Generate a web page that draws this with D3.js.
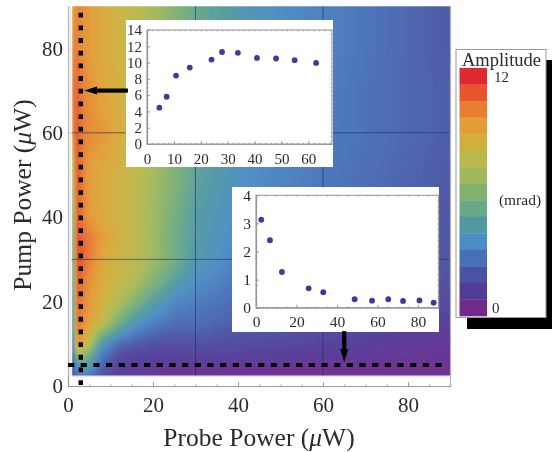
<!DOCTYPE html>
<html>
<head>
<meta charset="utf-8">
<script src="https://cdn.jsdelivr.net/npm/d3@7"></script>
<style>
  html, body { margin: 0; padding: 0; background: #fff; }
  svg { display: block; filter: blur(0.55px); }
  text { font-family: "Liberation Serif", serif; fill: #2b2b2b; }
</style>
</head>
<body>
<div id="chart"></div>
<script>
// --- data ---
const probeGrid = [1, 2, 3, 5, 8, 12, 16, 20, 25, 30, 40, 50, 60, 70, 80, 90];
const pumpGrid = [2.4, 5, 7, 10, 15, 20, 25, 30, 35, 40, 50, 60, 70, 80, 90];
// one row per pumpGrid entry, one value per probeGrid entry (mrad)
const amplitudeGrid = [
  [1.0, 2.5, 3.0, 2.6, 1.5, 0.8, 0.5, 0.3, 0.2, 0.2, 0.1, 0.1, 0.1, 0.1, 0.1, 0.1],
  [1.3, 3.5, 4.5, 4.2, 2.2, 1.0, 0.8, 0.7, 0.6, 0.6, 0.5, 0.4, 0.4, 0.3, 0.2, 0.2],
  [1.6, 6.0, 6.5, 5.2, 2.6, 1.3, 1.0, 0.9, 0.9, 1.0, 0.9, 0.8, 0.7, 0.6, 0.5, 0.4],
  [2.0, 9.5, 9.5, 7.6, 3.9, 2.4, 1.8, 1.5, 1.4, 1.5, 1.3, 1.2, 1.0, 0.8, 0.6, 0.5],
  [2.5, 10.5, 10.3, 9.4, 8.0, 5.4, 3.8, 3.0, 2.4, 2.4, 1.9, 1.7, 1.5, 1.2, 1.0, 0.9],
  [3.0, 10.8, 10.4, 9.6, 8.7, 7.4, 5.8, 4.4, 3.2, 2.9, 2.3, 2.0, 1.8, 1.6, 1.4, 1.2],
  [3.5, 11.0, 10.8, 9.8, 9.0, 8.2, 7.3, 6.0, 4.5, 3.5, 2.6, 2.3, 2.1, 1.9, 1.7, 1.5],
  [4.0, 11.3, 11.2, 10.3, 9.2, 8.3, 7.7, 6.8, 5.4, 4.1, 3.0, 2.6, 2.3, 2.1, 1.8, 1.6],
  [4.2, 11.5, 11.0, 10.5, 9.5, 8.6, 7.9, 6.8, 5.3, 4.3, 3.2, 2.7, 2.4, 2.2, 1.9, 1.7],
  [4.5, 11.3, 10.6, 9.6, 9.1, 8.5, 7.8, 6.8, 5.5, 4.3, 3.4, 2.9, 2.5, 2.3, 2.0, 1.7],
  [7.0, 11.2, 10.6, 9.4, 9.0, 8.6, 7.9, 7.0, 5.9, 4.7, 3.6, 3.1, 2.7, 2.4, 2.1, 1.8],
  [9.5, 11.3, 10.5, 10.0, 9.7, 8.9, 8.2, 7.4, 6.2, 5.0, 3.9, 3.2, 2.8, 2.5, 2.2, 1.9],
  [10.0, 11.0, 10.5, 9.8, 9.2, 8.7, 8.1, 7.3, 6.2, 5.0, 4.0, 3.3, 2.9, 2.5, 2.2, 1.9],
  [9.5, 10.5, 10.0, 9.5, 9.0, 8.5, 7.9, 7.1, 6.1, 5.0, 4.1, 3.4, 3.0, 2.6, 2.2, 1.8],
  [9.0, 10.0, 10.0, 9.5, 9.0, 8.4, 7.8, 7.0, 6.0, 5.0, 4.1, 3.4, 3.0, 2.6, 2.2, 1.8]
];
// top to bottom in the legend
const bandColors = ["#e0282f", "#e6552d", "#e87d33", "#e39c36", "#cfb03d", "#b8b84c", "#9fb85c", "#82b070",
  "#69a888", "#5198a2", "#4a8cc4", "#4870b8", "#4a52a2", "#523a98", "#72298c"];

const topProbe = [4.6, 7.3, 10.8, 15.9, 24, 27.9, 33.8, 40.9, 48, 54.9, 62.9];
const topAmp = [4.46, 5.8, 8.4, 9.38, 10.37, 11.3, 11.2, 10.57, 10.5, 10.3, 9.96];
const bottomPump = [2.6, 6.9, 12.8, 26, 33.2, 48.7, 57.3, 65.3, 72.6, 80.7, 87.7];
const bottomAmp = [3.13, 2.4, 1.27, 0.69, 0.55, 0.3, 0.25, 0.3, 0.24, 0.26, 0.18];

const mainTicks = [0, 20, 40, 60, 80];
const gridProbe = [30, 60];
const gridPump = [30, 60];

const width = 552, height = 452;
const x = d3.scaleLinear().domain([0, 90]).range([68, 450.5]);
const y = d3.scaleLinear().domain([0, 90]).range([386, 6.2]);
const color = d3.scaleLinear()
  .domain(bandColors.map((c, i) => 12 - i * 12 / (bandColors.length - 1)))
  .range(bandColors)
  .clamp(true);

const svg = d3.select("#chart").append("svg").attr("width", width).attr("height", height);
svg.append("rect").attr("width", width).attr("height", height).attr("fill", "#fff");

// --- heatmap: bilinear lookup in the grid above ---
function amplitudeAt(probe, pump) {
  const i = Math.min(d3.bisectRight(probeGrid, probe), probeGrid.length - 1);
  const j = Math.min(d3.bisectRight(pumpGrid, pump), pumpGrid.length - 1);
  const i0 = Math.max(i - 1, 0), j0 = Math.max(j - 1, 0);
  const tx = Math.min(1, Math.max(0, (probe - probeGrid[i0]) / (probeGrid[i] - probeGrid[i0] || 1)));
  const ty = Math.min(1, Math.max(0, (pump - pumpGrid[j0]) / (pumpGrid[j] - pumpGrid[j0] || 1)));
  const low = d3.interpolateNumber(amplitudeGrid[j0][i0], amplitudeGrid[j0][i])(tx);
  const high = d3.interpolateNumber(amplitudeGrid[j][i0], amplitudeGrid[j][i])(tx);
  return low + (high - low) * ty;
}

const defs = svg.append("defs");
defs.append("filter").attr("id", "soft").attr("x", "-2%").attr("y", "-2%").attr("width", "104%").attr("height", "104%")
  .append("feGaussianBlur").attr("stdDeviation", 1.2);
defs.append("clipPath").attr("id", "heat-clip").append("rect")
  .attr("x", x(probeGrid[0]))
  .attr("y", y(90))
  .attr("width", x(90) - x(probeGrid[0]))
  .attr("height", y(pumpGrid[0]) - y(90));

const cell = 2;
const cells = [];
for (let py = y(90) - cell; py < y(pumpGrid[0]) + cell; py += cell) {
  for (let px = x(probeGrid[0]) - cell; px < x(90) + cell; px += cell) {
    cells.push({ px, py, v: amplitudeAt(x.invert(px + cell / 2), y.invert(py + cell / 2)) });
  }
}
svg.append("g").attr("clip-path", "url(#heat-clip)")
  .append("g").attr("filter", "url(#soft)")
  .selectAll("rect").data(cells).join("rect")
  .attr("x", d => d.px)
  .attr("y", d => d.py)
  .attr("width", cell + 0.5)
  .attr("height", cell + 0.5)
  .attr("fill", d => color(d.v));

// lavender rim along the bottom of the heatmap
svg.append("line")
  .attr("x1", x(probeGrid[0])).attr("x2", x(90))
  .attr("y1", y(pumpGrid[0])).attr("y2", y(pumpGrid[0]))
  .attr("stroke", "#b9aed6").attr("stroke-width", 1);

// grid lines
svg.append("g").selectAll("line").data(gridProbe).join("line")
  .attr("x1", d => x(d)).attr("x2", d => x(d))
  .attr("y1", y(90)).attr("y2", y(pumpGrid[0]))
  .attr("stroke", "#1c2f50").attr("stroke-opacity", 0.6).attr("stroke-width", 1);
svg.append("g").selectAll("line").data(gridPump).join("line")
  .attr("x1", x(0)).attr("x2", x(90))
  .attr("y1", d => y(d)).attr("y2", d => y(d))
  .attr("stroke", "#1c2f50").attr("stroke-opacity", 0.6).attr("stroke-width", 1);

// --- main axes ---
function styleAxis(g, fontSize) {
  g.selectAll(".domain").attr("stroke", "#9a9a9a").attr("stroke-width", 1.2);
  g.selectAll(".tick line").attr("stroke", "#8a8a8a").attr("stroke-width", 0.8);
  g.selectAll("text").attr("font-size", fontSize).attr("fill", "#2b2b2b")
    .attr("font-family", '"Liberation Serif", serif');
}
function minorTicks(g, axis, values, size) {
  g.append("g").call(axis.tickValues(values).tickSize(size).tickFormat(""))
    .call(a => a.select(".domain").remove())
    .call(a => a.selectAll(".tick line").attr("stroke", "#8a8a8a").attr("stroke-width", 0.6));
}

const minorMain = d3.range(0, 91, 5);
const xAxisG = svg.append("g").attr("transform", `translate(0,${y(0)})`);
xAxisG.call(d3.axisBottom(x).tickValues(mainTicks).tickSizeOuter(0).tickSizeInner(-4).tickPadding(11))
  .call(styleAxis, 21);
minorTicks(xAxisG, d3.axisBottom(x), minorMain, -2);

const yAxisG = svg.append("g").attr("transform", `translate(${x(0)},0)`);
yAxisG.call(d3.axisLeft(y).tickValues(mainTicks).tickSizeOuter(0).tickSizeInner(-4).tickPadding(5))
  .call(styleAxis, 21);
minorTicks(yAxisG, d3.axisLeft(y), minorMain, -2);

// right edge of the frame and the pale strip beside the left axis
svg.append("line").attr("x1", x(90)).attr("x2", x(90)).attr("y1", y(90)).attr("y2", y(0))
  .attr("stroke", "#b0b0b8").attr("stroke-width", 1.2);
svg.append("line").attr("x1", x(0.5)).attr("x2", x(0.5)).attr("y1", y(90)).attr("y2", y(pumpGrid[0]))
  .attr("stroke", "#ececec").attr("stroke-width", 3);

function labelWithMu(sel, first) {
  sel.append("tspan").text(first + " (");
  sel.append("tspan").attr("font-style", "italic").text("\u03bc");
  sel.append("tspan").text("W)");
}
svg.append("text").attr("x", 259).attr("y", 446).attr("text-anchor", "middle").attr("font-size", 25.5)
  .call(labelWithMu, "Probe Power");
svg.append("text").attr("transform", "translate(31,195) rotate(-90)").attr("text-anchor", "middle").attr("font-size", 25.5)
  .call(labelWithMu, "Pump Power");

// --- dashed slices at probe = 3 and pump = 5 ---
const sliceProbe = 3, slicePump = 5;
svg.append("line")
  .attr("x1", x(sliceProbe)).attr("x2", x(sliceProbe))
  .attr("y1", y(0) - 1).attr("y2", y(89.5))
  .attr("stroke", "#000").attr("stroke-width", 4.5).attr("stroke-dasharray", "4.8 7.87");
svg.append("line")
  .attr("x1", x(0)).attr("x2", x(88.5))
  .attr("y1", y(slicePump)).attr("y2", y(slicePump))
  .attr("stroke", "#000").attr("stroke-width", 4).attr("stroke-dasharray", "6.2 6.47");

// --- insets ---
function drawInset(o) {
  const sx = d3.scaleLinear().domain(o.xDomain).range([o.frame[0], o.frame[1]]);
  const sy = d3.scaleLinear().domain(o.yDomain).range([o.frame[3], o.frame[2]]);
  const g = svg.append("g");
  g.append("rect").attr("x", o.box[0]).attr("y", o.box[1])
    .attr("width", o.box[2] - o.box[0]).attr("height", o.box[3] - o.box[1]).attr("fill", "#fff");
  g.append("rect").attr("x", o.frame[0]).attr("y", o.frame[2])
    .attr("width", o.frame[1] - o.frame[0]).attr("height", o.frame[3] - o.frame[2])
    .attr("fill", "none").attr("stroke", "#8f8f8f").attr("stroke-width", 1);
  const bottom = g.append("g").attr("transform", `translate(0,${o.frame[3]})`);
  bottom.call(d3.axisBottom(sx).tickValues(o.xTicks).tickFormat(d3.format("d")).tickSizeOuter(0).tickSizeInner(-3).tickPadding(o.xPad))
    .call(styleAxis, o.fontSize);
  const left = g.append("g").attr("transform", `translate(${o.frame[0]},0)`);
  left.call(d3.axisLeft(sy).tickValues(o.yTicks).tickFormat(d3.format("d")).tickSizeOuter(0).tickSizeInner(-3).tickPadding(5))
    .call(styleAxis, o.fontSize);
  minorTicks(bottom, d3.axisBottom(sx), d3.range(o.xDomain[0], o.xDomain[1], o.xMinor), -1.5);
  minorTicks(left, d3.axisLeft(sy), d3.range(o.yDomain[0], o.yDomain[1], o.yMinor), -1.5);
  // matching ticks on the top and right edges
  minorTicks(g.append("g").attr("transform", `translate(0,${o.frame[2]})`), d3.axisTop(sx), d3.range(o.xDomain[0], o.xDomain[1], o.xMinor), -1.5);
  minorTicks(g.append("g").attr("transform", `translate(${o.frame[1]},0)`), d3.axisRight(sy), d3.range(o.yDomain[0], o.yDomain[1], o.yMinor), -1.5);
  g.append("g").selectAll("circle").data(o.xs).join("circle")
    .attr("cx", d => sx(d))
    .attr("cy", (d, i) => sy(o.ys[i]))
    .attr("r", 2.9)
    .attr("fill", "#3f3a9c");
}
drawInset({
  box: [126, 20, 333, 167], frame: [147, 332, 30, 144],
  xDomain: [0, 68.8], yDomain: [0, 14],
  xTicks: d3.range(0, 61, 10), yTicks: d3.range(0, 15, 2),
  xMinor: 2, yMinor: 0.5, fontSize: 15, xPad: 9,
  xs: topProbe, ys: topAmp
});
drawInset({
  box: [232, 187, 439, 332], frame: [256, 438.7, 195.3, 307.7],
  xDomain: [0, 90.2], yDomain: [0, 4],
  xTicks: d3.range(0, 81, 20), yTicks: d3.range(0, 5, 1),
  xMinor: 5, yMinor: 0.2, fontSize: 15.5, xPad: 8,
  xs: bottomPump, ys: bottomAmp
});

// --- arrows from the insets to the slices ---
const arrowPoints = [
  { from: [14.1, 70], to: [3.8, 70] },
  { from: [65, 13], to: [65, 5.6] }
];
arrowPoints.forEach(a => {
  const x1 = x(a.from[0]), y1 = y(a.from[1]), x2 = x(a.to[0]), y2 = y(a.to[1]);
  const len = Math.hypot(x2 - x1, y2 - y1), ux = (x2 - x1) / len, uy = (y2 - y1) / len;
  const headLen = 13, headHalf = 4;
  const bx = x2 - ux * headLen, by = y2 - uy * headLen;
  svg.append("line").attr("x1", x1).attr("y1", y1).attr("x2", bx).attr("y2", by)
    .attr("stroke", "#000").attr("stroke-width", 4.2);
  svg.append("path")
    .attr("d", d3.line()([[x2, y2], [bx - uy * headHalf, by + ux * headHalf], [bx + uy * headHalf, by - ux * headHalf]]) + "Z")
    .attr("fill", "#000");
});

// --- legend ---
const legend = svg.append("g");
legend.append("rect").attr("x", 467).attr("y", 60).attr("width", 85).attr("height", 269).attr("fill", "#000");
legend.append("rect").attr("x", 456).attr("y", 49.5).attr("width", 90).attr("height", 268)
  .attr("fill", "#fff").attr("stroke", "#9a9a9a").attr("stroke-width", 1);
const bandY = d3.scaleBand().domain(d3.range(bandColors.length)).range([68, 316]);
legend.selectAll("rect.band").data(bandColors).join("rect")
  .attr("class", "band")
  .attr("x", 459.5)
  .attr("y", (d, i) => bandY(i))
  .attr("width", 27.5)
  .attr("height", bandY.bandwidth() + 0.3)
  .attr("fill", d => d);
legend.append("text").attr("x", 501.5).attr("y", 66).attr("text-anchor", "middle").attr("font-size", 18.5).text("Amplitude");
legend.append("text").attr("x", 494).attr("y", 82).attr("font-size", 15).text("12");
legend.append("text").attr("x", 492).attr("y", 313).attr("font-size", 15).text("0");
legend.append("text").attr("x", 520).attr("y", 205).attr("text-anchor", "middle").attr("font-size", 15.5).text("(mrad)");
</script>
</body>
</html>
